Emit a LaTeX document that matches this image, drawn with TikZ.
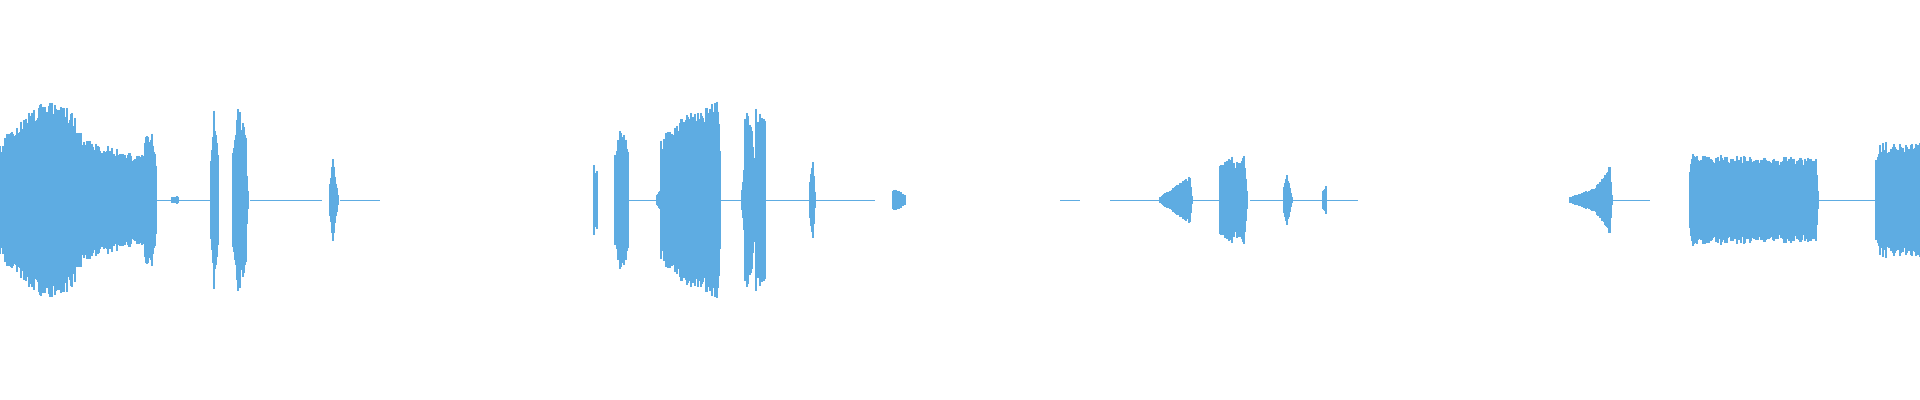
\documentclass[tikz,border=0pt]{standalone}
\definecolor{wave}{RGB}{94,172,226}
\begin{document}
\begin{tikzpicture}[x=0.01cm,y=-0.01cm,line width=0.013cm]
\useasboundingbox (0,0) rectangle (1920,400);
\pgfmathsetseed{7}
\newcommand\wv[4]{\foreach \i in {#1,...,#2}{\pgfmathsetmacro\aa{(#3+(#4-#3)*(\i-#1)/max(#2-#1,1))*(0.8+0.2*rnd)}\draw[wave] (\i,200-\aa) -- (\i,200+\aa);}}
\newcommand\wln[2]{\draw[wave,line width=0.01cm] (#1,200) -- (#2,200);}
% lines
\wln{156}{210}\wln{250}{322}\wln{340}{380}\wln{628}{660}\wln{720}{745}\wln{765}{810}\wln{815}{875}
\wln{1060}{1080}\wln{1110}{1190}\wln{1192}{1220}\wln{1250}{1285}\wln{1292}{1325}\wln{1325}{1358}
\wln{1570}{1612}\wln{1612}{1650}\wln{1818}{1875}
% blob 1
\wv{0}{12}{55}{75}\wv{12}{30}{75}{88}\wv{30}{45}{88}{100}\wv{45}{60}{100}{95}\wv{60}{75}{95}{90}
\wv{76}{90}{70}{62}\wv{90}{140}{60}{45}\wv{140}{145}{45}{55}\wv{145}{152}{65}{75}\wv{152}{156}{70}{40}
\wv{172}{178}{3}{4}
\wv{211}{214}{40}{90}\wv{214}{218}{90}{55}
\wv{233}{238}{50}{95}\wv{238}{246}{95}{70}\wv{246}{248}{40}{10}
\wv{330}{333}{20}{42}\wv{333}{338}{42}{5}
% middle
\wv{594}{597}{35}{30}
\wv{615}{620}{45}{70}\wv{620}{628}{70}{60}
\wv{657}{661}{5}{12}
\wv{661}{668}{60}{72}\wv{668}{690}{72}{88}\wv{690}{718}{88}{100}\wv{718}{720}{95}{60}
\wv{742}{745}{10}{40}\wv{745}{752}{90}{85}\wv{752}{756}{60}{40}\wv{756}{765}{95}{80}
\wv{810}{813}{20}{40}\wv{813}{815}{40}{10}
\wv{893}{896}{10}{12}\wv{898}{905}{10}{5}
% right middle
\wv{1160}{1190}{3}{25}\wv{1190}{1192}{25}{5}
\wv{1220}{1232}{35}{45}\wv{1232}{1237}{50}{20}\wv{1237}{1244}{40}{50}\wv{1244}{1247}{50}{10}
\wv{1284}{1287}{15}{28}\wv{1287}{1292}{28}{3}
\wv{1323}{1326}{10}{15}
% right
\wv{1570}{1595}{3}{12}\wv{1595}{1610}{12}{35}\wv{1610}{1612}{35}{5}
\wv{1690}{1693}{30}{52}\wv{1693}{1750}{45}{45}\wv{1750}{1816}{45}{42}\wv{1816}{1818}{40}{10}
\wv{1876}{1880}{40}{60}\wv{1880}{1920}{58}{57}
\end{tikzpicture}
\end{document}
